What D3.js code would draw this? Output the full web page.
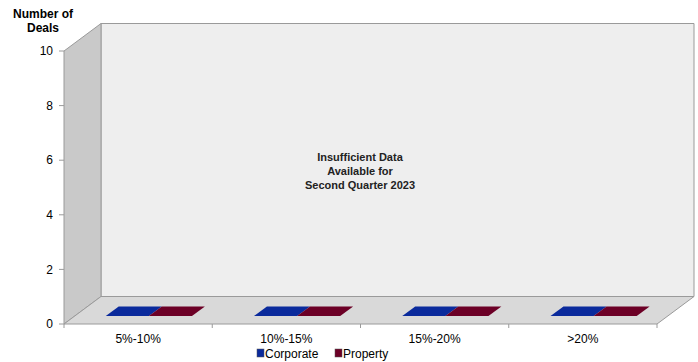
<!DOCTYPE html>
<html>
<head>
<meta charset="utf-8">
<script src="https://cdn.jsdelivr.net/npm/d3@7/dist/d3.min.js"></script>
<style>
  body { margin: 0; background: #fff; }
  svg { display: block; font-family: "Liberation Sans", Arial, sans-serif; }
</style>
</head>
<body>
<svg id="chart" width="698" height="362"></svg>
<script>
// Spread ranges and deal counts per lender type
const categories = ["5%-10%", "10%-15%", "15%-20%", ">20%"];
const corporate = [0, 0, 0, 0];
const property = [0, 0, 0, 0];
const seriesNames = ["Corporate", "Property"];
const seriesColors = ["#0a2a9c", "#6c0026"];
const yTicks = [0, 2, 4, 6, 8, 10];
const noteLines = ["Insufficient Data", "Available for", "Second Quarter 2023"];

(function draw() {
  const svg = d3.select("#chart");

  // 3D frame: front plane plus a depth offset for the back wall
  const depthX = 37, depthY = -27.5;
  const plotLeft = 64, plotRight = 657, plotBottom = 324, plotTop = 51;

  const x = d3.scaleBand().domain(categories).range([plotLeft, plotRight]);
  const y = d3.scaleLinear().domain([0, 10]).range([plotBottom, plotTop]);
  const series = d3.scaleBand().domain(seriesNames)
    .range([0, x.bandwidth()]).paddingOuter(0.72).paddingInner(0);

  const poly = pts => pts.map(p => p.join(",")).join(" ");
  const edge = "#9a9a9a";

  // back wall
  svg.append("polygon")
    .attr("points", poly([[plotLeft + depthX, plotTop + depthY], [plotRight + depthX, plotTop + depthY],
                          [plotRight + depthX, plotBottom + depthY], [plotLeft + depthX, plotBottom + depthY]]))
    .attr("fill", "#eeeeee").attr("stroke", edge).attr("stroke-width", 1);

  // left wall
  svg.append("polygon")
    .attr("points", poly([[plotLeft, plotTop], [plotLeft + depthX, plotTop + depthY],
                          [plotLeft + depthX, plotBottom + depthY], [plotLeft, plotBottom]]))
    .attr("fill", "#c9c9c9").attr("stroke", edge).attr("stroke-width", 1);

  // floor
  svg.append("polygon")
    .attr("points", poly([[plotLeft, plotBottom], [plotRight, plotBottom],
                          [plotRight + depthX, plotBottom + depthY], [plotLeft + depthX, plotBottom + depthY]]))
    .attr("fill", "#d9d9d9").attr("stroke", edge).attr("stroke-width", 1);

  // y axis ticks and labels
  const yAxis = svg.append("g");
  yTicks.forEach(t => {
    yAxis.append("line")
      .attr("x1", plotLeft - 5).attr("x2", plotLeft)
      .attr("y1", y(t)).attr("y2", y(t))
      .attr("stroke", edge);
    yAxis.append("text")
      .attr("x", plotLeft - 11).attr("y", y(t)).attr("dy", "0.35em")
      .attr("text-anchor", "end").attr("font-size", 12).attr("fill", "#000")
      .text(t);
  });

  // y axis title
  svg.append("text")
    .attr("x", 43).attr("y", 18)
    .attr("text-anchor", "middle").attr("font-size", 12).attr("font-weight", "bold")
    .selectAll("tspan").data(["Number of", "Deals"]).join("tspan")
    .attr("x", 43).attr("dy", (d, i) => i === 0 ? 0 : 14).text(d => d);

  // x axis: category separators and labels
  const xAxis = svg.append("g");
  categories.forEach(c => {
    xAxis.append("line")
      .attr("x1", x(c)).attr("x2", x(c))
      .attr("y1", plotBottom).attr("y2", plotBottom + 4)
      .attr("stroke", edge);
    xAxis.append("text")
      .attr("x", x(c) + x.bandwidth() / 2).attr("y", plotBottom + 19)
      .attr("text-anchor", "middle").attr("font-size", 12).attr("fill", "#000")
      .text(c);
  });
  xAxis.append("line")
    .attr("x1", plotRight).attr("x2", plotRight)
    .attr("y1", plotBottom).attr("y2", plotBottom + 4).attr("stroke", edge);

  // bars: drawn in 3D, sitting in the middle of the floor depth
  const f0 = 0.29, f1 = 0.64;
  const bars = svg.append("g");
  [corporate, property].forEach((vals, s) => {
    vals.forEach((v, i) => {
      const x0 = x(categories[i]) + series(seriesNames[s]);
      const x1 = x0 + series.bandwidth();
      const yv = y(v), y0 = y(0);
      const ox0 = depthX * f0, oy0 = depthY * f0, ox1 = depthX * f1, oy1 = depthY * f1;
      // front face
      bars.append("polygon")
        .attr("points", poly([[x0 + ox0, yv + oy0], [x1 + ox0, yv + oy0], [x1 + ox0, y0 + oy0], [x0 + ox0, y0 + oy0]]))
        .attr("fill", seriesColors[s]);
      // top face
      bars.append("polygon")
        .attr("points", poly([[x0 + ox0, yv + oy0], [x1 + ox0, yv + oy0], [x1 + ox1, yv + oy1], [x0 + ox1, yv + oy1]]))
        .attr("fill", seriesColors[s]);
    });
  });

  // centred note on the back wall
  svg.append("text")
    .attr("x", 360).attr("y", 161)
    .attr("text-anchor", "middle").attr("font-size", 11).attr("font-weight", "bold").attr("fill", "#222")
    .selectAll("tspan").data(noteLines).join("tspan")
    .attr("x", 360).attr("dy", (d, i) => i === 0 ? 0 : 14).text(d => d);

  // legend
  const legendItems = [{ x: 257, name: seriesNames[0], color: seriesColors[0] },
                       { x: 335, name: seriesNames[1], color: seriesColors[1] }];
  const legend = svg.append("g");
  legendItems.forEach(d => {
    legend.append("rect")
      .attr("x", d.x).attr("y", 349).attr("width", 7).attr("height", 8)
      .attr("fill", d.color).attr("stroke", "#555").attr("stroke-width", 0.5);
    legend.append("text")
      .attr("x", d.x + 8).attr("y", 357.5)
      .attr("font-size", 12).attr("fill", "#000").text(d.name);
  });
})();
</script>
</body>
</html>
